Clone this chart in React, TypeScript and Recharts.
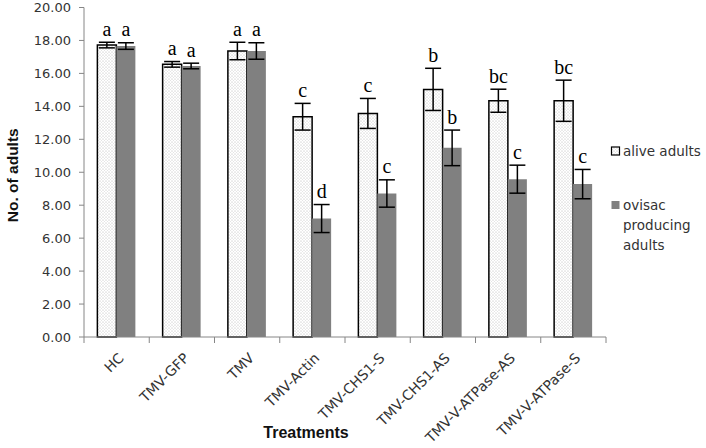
import React from 'react';
import { BarChart, Bar, XAxis, YAxis, ErrorBar, LabelList, Legend } from 'recharts';

const treatments = ['HC', 'TMV-GFP', 'TMV', 'TMV-Actin', 'TMV-CHS1-S', 'TMV-CHS1-AS', 'TMV-V-ATPase-AS', 'TMV-V-ATPase-S'];
const aliveAdults = [17.72, 16.55, 17.36, 13.37, 13.57, 15.03, 14.34, 14.34];
const aliveErr = [0.17, 0.17, 0.53, 0.81, 0.91, 1.28, 0.7, 1.25];
const aliveLetters = ['a', 'a', 'a', 'c', 'c', 'b', 'bc', 'bc'];
const ovisacAdults = [17.66, 16.45, 17.36, 7.19, 8.71, 11.48, 9.58, 9.28];
const ovisacErr = [0.2, 0.17, 0.5, 0.85, 0.83, 1.08, 0.85, 0.89];
const ovisacLetters = ['a', 'a', 'a', 'd', 'c', 'b', 'c', 'c'];
const yTicks = [0, 2, 4, 6, 8, 10, 12, 14, 16, 18, 20];

const data = treatments.map((name, i) => ({
  name,
  alive: aliveAdults[i],
  aliveErr: aliveErr[i],
  aliveLetter: aliveLetters[i],
  ovisac: ovisacAdults[i],
  ovisacErr: ovisacErr[i],
  ovisacLetter: ovisacLetters[i],
}));

const AXIS = '#868686';
const SANS = '"DejaVu Sans", sans-serif';

const makeLetterLabel = (values: number[], errs: number[]) => (props: any) => {
  const { index, value } = props;
  const vb = props.viewBox ?? {};
  const x = Number(props.x ?? vb.x);
  const y = Number(props.y ?? vb.y);
  const w = Number(props.width ?? vb.width);
  const h = Number(props.height ?? vb.height);
  if (!isFinite(x) || !isFinite(y) || index == null) return null;
  const ppu = Math.abs(h) / values[index];
  const top = Math.min(y, y + h) - errs[index] * ppu;
  return (
    <text x={x + w / 2} y={top - 6.5} textAnchor="middle" fontFamily='"Liberation Serif", serif' fontSize={20} fill="#000">
      {value}
    </text>
  );
};

const XTick = (props: any) => {
  const { x, y, payload, index } = props;
  const off = payload?.offset ?? 32.6;
  const tx = x + 8;
  const ty = y + 22;
  return (
    <g>
      <line x1={x - off} x2={x - off} y1={y} y2={y + 6} stroke={AXIS} />
      {index === treatments.length - 1 && <line x1={x + off} x2={x + off} y1={y} y2={y + 6} stroke={AXIS} />}
      <text
        x={tx}
        y={ty}
        transform={`rotate(-45 ${tx} ${ty})`}
        textAnchor="end"
        fontFamily={SANS}
        fontSize={14}
        fill="#333"
      >
        {payload.value}
      </text>
    </g>
  );
};

const LegendContent = () => (
  <div style={{ fontFamily: SANS, fontSize: 13.5, color: '#333', width: 96 }}>
    <div style={{ display: 'flex', alignItems: 'flex-start', lineHeight: '20px' }}>
      <svg width={13} height={20} style={{ flex: 'none' }}>
        <rect x={1.5} y={6} width={8} height={8} fill="url(#dots)" stroke="#000" strokeWidth={1.2} />
      </svg>
      <span style={{ width: 82 }}>alive adults</span>
    </div>
    <div style={{ display: 'flex', alignItems: 'flex-start', lineHeight: '20px', marginTop: 34 }}>
      <svg width={13} height={20} style={{ flex: 'none' }}>
        <rect x={1.5} y={6} width={8} height={8} fill="#808080" />
      </svg>
      <span style={{ width: 82 }}>ovisac producing adults</span>
    </div>
  </div>
);

export default function App() {
  return (
    <div style={{ position: 'relative', width: 706, height: 448, background: '#fff' }}>
      <style>{'body{margin:0;background:#fff}'}</style>
      <svg width={0} height={0} style={{ position: 'absolute' }}>
        <defs>
          <pattern id="dots" width={3} height={3} patternUnits="userSpaceOnUse">
            <rect width={3} height={3} fill="#fff" />
            <circle cx={1} cy={1} r={0.55} fill="#b0b0b0" />
            <circle cx={2.5} cy={2.5} r={0.45} fill="#c8c8c8" />
          </pattern>
        </defs>
      </svg>
      <BarChart
        width={706}
        height={448}
        data={data}
        margin={{ top: 7.5, right: 100, bottom: 0, left: 0 }}
        barCategoryGap="20.5%"
        barGap={0}
      >
        <XAxis
          dataKey="name"
          interval={0}
          height={111}
          tickSize={0}
          tickMargin={0}
          tickLine={false}
          axisLine={{ stroke: AXIS }}
          tick={<XTick />}
          label={{
            content: () => (
              <text x={306} y={438} textAnchor="middle" fontFamily='"Liberation Sans", Arial, sans-serif' fontWeight="bold" fontSize={16} fill="#111">
                Treatments
              </text>
            ),
          }}
        />
        <YAxis
          domain={[0, 20]}
          ticks={yTicks}
          interval={0}
          width={84}
          tickSize={5}
          tickMargin={8}
          tickFormatter={(v: number) => v.toFixed(2)}
          axisLine={{ stroke: AXIS }}
          tickLine={{ stroke: AXIS }}
          tick={{ fontFamily: SANS, fontSize: 13, fill: '#333' }}
          label={{
            content: (p: any) => {
              const vb = p.viewBox ?? { y: 7.5, height: 329 };
              const cy = vb.y + vb.height / 2 + 3;
              return (
                <text
                  x={12}
                  y={cy}
                  transform={`rotate(-90 12 ${cy})`}
                  textAnchor="middle"
                  dominantBaseline="central"
                  fontFamily='"Liberation Sans", Arial, sans-serif'
                  fontWeight="bold"
                  fontSize={15.5}
                  fill="#111"
                >
                  No. of adults
                </text>
              );
            },
          }}
        />
        <Legend
          layout="horizontal"
          verticalAlign="bottom"
          align="left"
          content={<LegendContent />}
          wrapperStyle={{ position: 'absolute', left: 610, top: 141, width: 96, height: 0, overflow: 'visible' }}
        />
        <Bar dataKey="alive" name="alive adults" fill="url(#dots)" stroke="#000" strokeWidth={1.5} isAnimationActive={false}>
          <ErrorBar dataKey="aliveErr" width={8} stroke="#000" strokeWidth={1.5} direction="y" />
          <LabelList dataKey="aliveLetter" content={makeLetterLabel(aliveAdults, aliveErr)} />
        </Bar>
        <Bar dataKey="ovisac" name="ovisac producing adults" fill="#808080" isAnimationActive={false}>
          <ErrorBar dataKey="ovisacErr" width={8} stroke="#000" strokeWidth={1.5} direction="y" />
          <LabelList dataKey="ovisacLetter" content={makeLetterLabel(ovisacAdults, ovisacErr)} />
        </Bar>
      </BarChart>
    </div>
  );
}
